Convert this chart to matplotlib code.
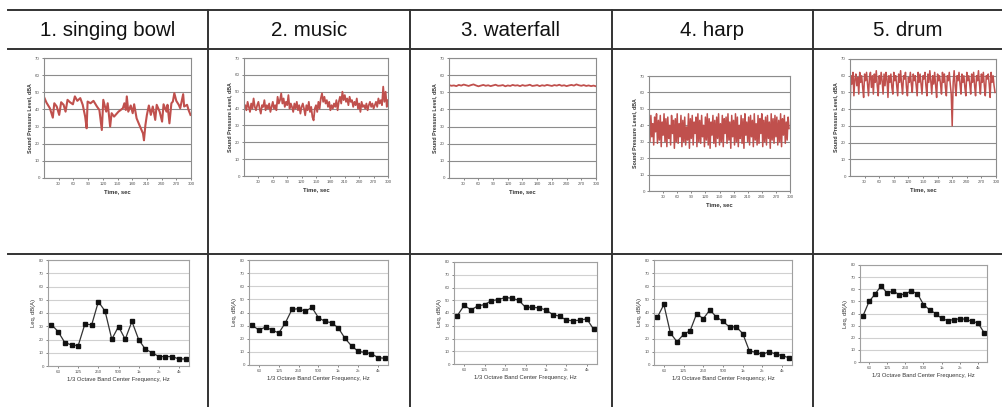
import matplotlib.pyplot as plt
import numpy as np

plt.rcParams['font.family'] = ['Liberation Sans', 'DejaVu Sans']

W, H = 1003, 407
RED = "#c0504d"

titles = ["1. singing bowl", "2. music", "3. waterfall", "4. harp", "5. drum"]

# singing bowl, read as break points (sec, dBA)
bowl_t = [1, 5, 12, 18, 21, 26, 31, 35, 40, 44, 48, 53, 59, 63, 68, 74, 79, 84, 87, 89,
          95, 101, 108, 113, 118, 121, 127, 130, 135, 138, 143, 152, 161, 164, 167, 169,
          172, 177, 181, 184, 189, 196, 202, 204, 207, 210, 214, 218, 222, 227, 230, 236,
          241, 244, 250, 252, 256, 260, 263, 266, 270, 275, 278, 284, 286, 292, 295, 299]
bowl_v = [46.6, 44, 40.7, 35.2, 43.6, 41.7, 36.8, 44.2, 42.7, 38.7, 45.6, 44.2, 43, 47.6,
          45, 46.6, 42.7, 35.8, 29, 44.6, 43.6, 45, 41.7, 39.7, 28, 45.6, 38.7, 43.6, 30,
          37.8, 35.8, 38.7, 40.7, 43.6, 39.7, 47.6, 38.7, 42.3, 37.8, 43, 34.8, 30, 26, 22,
          31, 36.8, 42.3, 36.8, 41.7, 33.9, 42.7, 38.7, 32.9, 43, 38.7, 42.7, 31.9, 43.6,
          44.6, 49.5, 45, 42.7, 40.7, 48.9, 41.7, 42.7, 39.7, 36.8]

# music, every 2.5 s
music_v = [40, 42, 39, 44, 41, 38, 43, 40, 46, 41,
           39, 42, 44, 40, 37, 42, 41, 45, 39, 42,
           40, 43, 38, 41, 44, 40, 42, 39, 47, 43,
           45, 49, 43, 46, 41, 44, 42, 48, 40, 43,
           41, 38, 43, 40, 44, 39, 42, 37, 41, 43,
           40, 36, 42, 39, 44, 38, 41, 35, 33, 40,
           42, 38, 44, 40, 46, 49, 44, 47, 43, 45,
           41, 44, 39, 42, 40, 43, 41, 45, 39, 44,
           47, 43, 50, 45, 48, 44, 46, 42, 47, 44,
           45, 41, 44, 42, 46, 40, 43, 38, 44, 41,
           42, 40, 43, 39, 42, 44, 41, 43, 40, 42,
           44, 41, 46, 43, 45, 42, 53, 44, 50, 41, 45]

# waterfall, every 5 s
waterfall_v = [54.2, 53.8, 54.0, 53.6, 54.3, 53.9, 54.5, 54.1, 53.7, 54.2, 54.6, 54.0,
               53.5, 53.9, 54.3, 53.8, 54.1, 53.6, 54.0, 54.4, 53.8, 53.9, 54.2, 53.5,
               54.0, 53.7, 54.3, 53.9, 54.1, 53.6, 54.2, 53.8, 54.0, 54.4, 53.7, 53.9,
               54.2, 53.6, 54.1, 53.8, 54.3, 54.0, 53.7, 54.2, 53.9, 54.4, 53.8, 54.1,
               53.6, 54.0, 54.3, 53.9, 54.6, 54.1, 53.8, 54.2, 53.7, 54.0, 53.6, 53.9, 53.5]

# harp, every 2 s
harp_v = [44, 30, 46, 33, 41, 28, 45, 36, 47, 29, 43, 31, 46, 27, 42,
          34, 47, 30, 44, 27, 45, 32, 40, 28, 46, 35, 43, 26, 44, 30,
          47, 29, 41, 33, 46, 27, 43, 30, 45, 28, 39, 31, 47, 26, 44,
          32, 46, 28, 42, 35, 45, 27, 47, 30, 43, 29, 46, 33, 40, 27,
          45, 31, 47, 28, 44, 26, 42, 34, 46, 29, 43, 27, 45, 32, 47,
          28, 41, 30, 46, 27, 44, 35, 45, 29, 47, 31, 42, 26, 46, 33,
          43, 28, 47, 30, 45, 27, 40, 32, 46, 29, 44, 26, 47, 34, 42,
          30, 45, 28, 46, 33, 43, 27, 47, 31, 41, 28, 46, 29, 44, 35,
          47, 27, 43, 30, 45, 28, 46, 32, 42, 26, 47, 31, 44, 29, 46,
          33, 45, 28, 43, 30, 47, 27, 44, 34, 46, 29, 42, 31, 45, 38]

# drum, every 2 s
drum_v = [40, 60, 55, 62, 48, 58, 61, 54, 59, 49, 62, 56, 60, 53, 47,
          61, 57, 62, 55, 48, 59, 62, 53, 60, 49, 61, 56, 63, 54, 48,
          60, 55, 62, 57, 49, 61, 54, 62, 58, 47, 60, 56, 61, 53, 49,
          62, 57, 60, 54, 48, 61, 56, 63, 55, 49, 60, 58, 62, 53, 48,
          59, 56, 62, 55, 50, 61, 57, 60, 54, 48, 62, 56, 61, 55, 49,
          60, 58, 62, 54, 48, 61, 56, 63, 57, 49, 60, 55, 62, 54, 47,
          61, 57, 60, 55, 49, 62, 56, 61, 53, 48, 60, 57, 62, 55, 49,
          30, 56, 63, 54, 48, 60, 57, 62, 55, 49, 61, 56, 60, 53, 48,
          62, 57, 60, 55, 49, 61, 56, 62, 54, 48, 60, 57, 63, 55, 49,
          61, 56, 62, 54, 48, 60, 58, 61, 55, 47, 62, 56, 60, 54, 50]

bands = ["50", "63", "80", "100", "125", "160", "200", "250", "315", "400", "500",
         "630", "800", "1k", "1.25k", "1.6k", "2k", "2.5k", "3.15k", "4k", "5k"]
band_labels = ["63", "125", "250", "500", "1k", "2k", "4k"]

leq_bowl = [31.3, 26, 17.7, 15.9, 15.4, 31.8, 31, 48.5, 41.4, 20.2, 29.8, 20.2, 33.6,
            20, 12.6, 10.1, 7.1, 7.1, 7.1, 5.3, 5.3]
leq_music = [30.2, 26.6, 28.9, 26.6, 24.4, 32.2, 42.4, 42.9, 40.9, 43.9, 36, 33.2, 32.2,
             28.2, 20.3, 14.5, 10.4, 9.6, 8.6, 5.6, 5.1]
leq_waterfall = [38, 46.1, 42.4, 45.6, 46.6, 49.7, 50.5, 52.1, 51.6, 50, 44.5, 44.5, 44,
                 42.4, 38.8, 37.5, 34.4, 33.9, 34.4, 35.4, 27.3]
leq_harp = [36.2, 46.1, 24.3, 17.7, 23.3, 26.1, 39.2, 35.2, 42, 36.5, 33.2, 28.9, 29.1,
            24, 10.9, 9.6, 8.1, 10.1, 8.4, 7.1, 5.6]
leq_drum = [38.1, 49.9, 56, 62.9, 56.6, 58.8, 55.2, 56.3, 58.6, 56.3, 47.4, 43, 40, 35.9,
            34.2, 35, 35.6, 35.3, 33.5, 32.3, 24.3]

# pixel boxes (x0, y0, x1, y1) of the plot areas
top_boxes = [(44, 58, 191, 178), (244, 58, 388, 176), (449, 58, 596, 178),
             (649, 76, 790, 191), (850, 59, 996, 176)]
bot_boxes = [(48, 260, 189, 366), (249, 260, 388, 365), (454, 262, 597, 364),
             (654, 260, 792, 365), (860, 265, 987, 362)]
line_widths = [1.5, 1.3, 1.3, 1.1, 1.1]


def px_axes(fig, box):
    x0, y0, x1, y1 = box
    return fig.add_axes([x0 / W, 1 - y1 / H, (x1 - x0) / W, (y1 - y0) / H])


def style_axes(ax, grid_color, edge_color):
    for s in ax.spines.values():
        s.set_color(edge_color)
        s.set_linewidth(0.8)
    ax.yaxis.grid(True, color=grid_color, linewidth=0.8)
    ax.set_axisbelow(True)
    ax.tick_params(labelsize=3.2, colors="#555555", length=1.5, width=0.5, pad=1.5)


fig = plt.figure(figsize=(W / 100, H / 100), dpi=100)

# table frame
frame = fig.add_axes([0, 0, 1, 1])
frame.set_xlim(0, W)
frame.set_ylim(H, 0)
frame.axis("off")
for yy in [10, 49, 254]:
    frame.plot([8, W], [yy, yy], color="#333333", lw=1.4)
for xx in [208, 410, 612, 813]:
    frame.plot([xx, xx], [10, H], color="#333333", lw=1.4)
centers = [108, 309, 511, 712, 908]
for cx, t in zip(centers, titles):
    frame.text(cx, 30, t, ha="center", va="center", fontsize=14.8, color="#111111")

series = [(bowl_t, bowl_v),
          (np.linspace(0, 300, len(music_v)), music_v),
          (np.linspace(0, 300, len(waterfall_v)), waterfall_v),
          (np.linspace(0, 298, len(harp_v)), harp_v),
          (np.linspace(0, 298, len(drum_v)), drum_v)]

for box, (tt, vv), lw in zip(top_boxes, series, line_widths):
    ax = px_axes(fig, box)
    style_axes(ax, "#8c8c8c", "#8c8c8c")
    ax.plot(tt, vv, color=RED, lw=lw)
    ax.set_xlim(0, 300)
    ax.set_ylim(0, 70)
    ax.set_xticks(range(30, 301, 30))
    ax.set_yticks(range(0, 71, 10))
    ax.set_xlabel("Time, sec", fontsize=4.2, fontweight="bold", labelpad=2, color="#333333")
    ax.set_ylabel("Sound Pressure Level, dBA", fontsize=3.8, fontweight="bold",
                  labelpad=2, color="#333333")

leqs = [leq_bowl, leq_music, leq_waterfall, leq_harp, leq_drum]
for box, vv in zip(bot_boxes, leqs):
    ax = px_axes(fig, box)
    style_axes(ax, "#d0d0d0", "#a0a0a0")
    xs = np.arange(len(bands))
    ax.plot(xs, vv, color="#333333", lw=0.9, marker="s", markersize=2.8,
            markerfacecolor="#111111", markeredgecolor="#111111")
    ax.set_xlim(-0.5, len(bands) - 0.5)
    ax.set_ylim(0, 80)
    ax.set_xticks([bands.index(b) for b in band_labels])
    ax.set_xticklabels(band_labels)
    ax.set_yticks(range(0, 81, 10))
    ax.set_xlabel("1/3 Octave Band Center Frequency, Hz", fontsize=4.2, labelpad=2,
                  color="#333333")
    ax.set_ylabel("Leq, dB(A)", fontsize=4.2, labelpad=2, color="#333333")

fig.savefig("out.png", dpi=100)
